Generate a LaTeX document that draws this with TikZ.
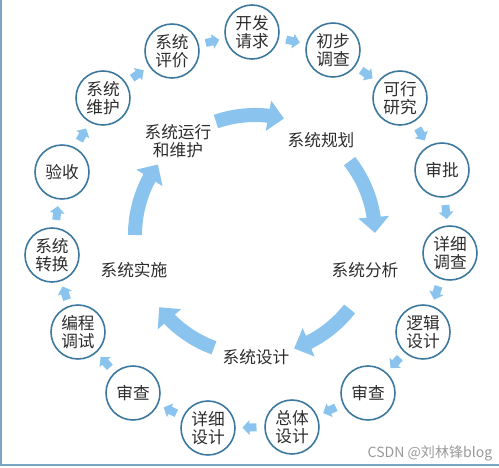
\documentclass[tikz,border=0pt]{standalone}
\usepackage{fontspec}
\setmainfont{Noto Sans CJK SC}
\usetikzlibrary{arrows.meta,bending,decorations.markings}
\definecolor{flowblue}{RGB}{138,196,238}
\definecolor{ringblue}{RGB}{60,120,158}
\definecolor{inkgray}{RGB}{45,45,45}
\definecolor{framegray}{RGB}{120,165,195}
\begin{document}
\begin{tikzpicture}[
	stage/.style={circle,draw=ringblue,line width=0.9pt,fill=white,minimum size=1.08cm,inner sep=0pt,align=center,text=inkgray,font=\fontsize{9.5}{10}\selectfont},
	phase/.style={align=center,text=inkgray,font=\fontsize{9.5}{10}\selectfont},
	hop/.style={decorate,decoration={markings,mark=at position .5 with {\fill[flowblue] (-0.13,-0.08) -- (0.01,-0.08) -- (0.01,-0.15) -- (0.15,0) -- (0.01,0.15) -- (0.01,0.08) -- (-0.13,0.08) -- cycle;}}},
	bigflow/.style={flowblue,line width=8pt,-{Triangle[width=17pt,length=9pt,flex]}}]
	\useasboundingbox (0,0) rectangle (9.98,9.34);
	\draw[framegray,line width=1pt] (0.02,9.34) -- (0.02,0.04) -- (9.98,0.04); % frame
	% outer ring of steps
	\node[stage] (kaifa) at (5.04,8.70) {开发\\请求};
	\node[stage] (diaocha) at (6.66,8.34) {初步\\调查};
	\node[stage] (kexing) at (8.00,7.38) {可行\\研究};
	\node[stage] (shenpi) at (8.84,5.94) {审批};
	\node[stage] (xxdc) at (9.00,4.28) {详细\\调查};
	\node[stage] (luoji) at (8.46,2.70) {逻辑\\设计};
	\node[stage] (shencha) at (7.36,1.48) {审查};
	\node[stage] (zongti) at (5.84,0.80) {总体\\设计};
	\node[stage] (xxsj) at (4.16,0.78) {详细\\设计};
	\node[stage] (shenchb) at (2.66,1.48) {审查};
	\node[stage] (biancheng) at (1.56,2.70) {编程\\调试};
	\node[stage] (zhuanhuan) at (1.04,4.24) {系统\\转换};
	\node[stage] (yanshou) at (1.24,5.90) {验收};
	\node[stage] (weihu) at (2.06,7.38) {系统\\维护};
	\node[stage] (pingjia) at (3.44,8.32) {系统\\评价};
	\path (kaifa) edge[hop] (diaocha) (diaocha) edge[hop] (kexing) (kexing) edge[hop] (shenpi)
		(shenpi) edge[hop] (xxdc) (xxdc) edge[hop] (luoji) (luoji) edge[hop] (shencha)
		(shencha) edge[hop] (zongti) (zongti) edge[hop] (xxsj) (xxsj) edge[hop] (shenchb)
		(shenchb) edge[hop] (biancheng) (biancheng) edge[hop] (zhuanhuan) (zhuanhuan) edge[hop] (yanshou)
		(yanshou) edge[hop] (weihu) (weihu) edge[hop] (pingjia) (pingjia) edge[hop] (kaifa);
	% inner cycle of phases
	\coordinate (hub) at (5.10,4.64);
	\node[phase] (yunxing) at (3.56,6.52) {系统运行\\和维护};
	\node[phase] (guihua) at (6.42,6.54) {系统规划};
	\node[phase] (fenxi) at (7.30,3.94) {系统分析};
	\node[phase] (sheji) at (5.12,2.20) {系统设计};
	\node[phase] (shishi) at (2.68,3.94) {系统实施};
	\draw[bigflow] ([shift={(109:2.4)}]hub) arc[start angle=109,end angle=76,radius=2.4];
	\draw[bigflow] ([shift={(38:2.4)}]hub) arc[start angle=38,end angle=1,radius=2.4];
	\draw[bigflow] ([shift={(-38:2.4)}]hub) arc[start angle=-38,end angle=-71,radius=2.4];
	\draw[bigflow] ([shift={(-110:2.4)}]hub) arc[start angle=-110,end angle=-143,radius=2.4];
	\draw[bigflow] ([shift={(180:2.4)}]hub) arc[start angle=180,end angle=144,radius=2.4];
	\node[text=black!40,font=\fontsize{8}{9}\selectfont] (csdn) at (8.60,0.28) {CSDN @刘林锋blog};
\end{tikzpicture}
\end{document}
